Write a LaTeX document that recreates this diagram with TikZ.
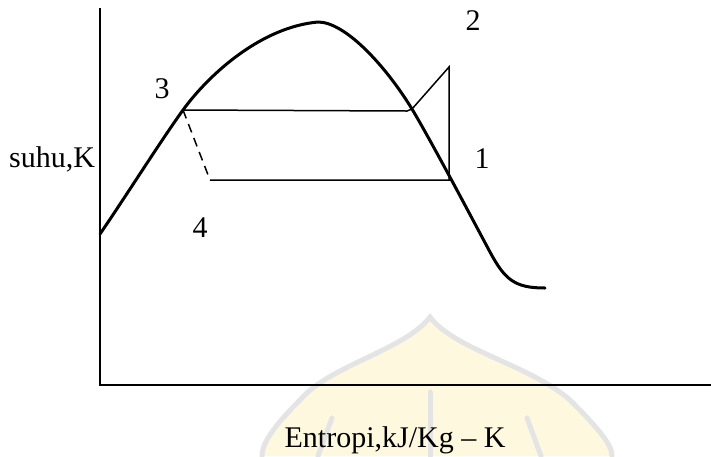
\documentclass[tikz,border=0pt]{standalone}
\usepackage{fontspec}
\setmainfont{Liberation Serif}
\definecolor{wmfill}{RGB}{254,249,222}
\definecolor{wmline}{RGB}{228,228,228}
\begin{document}
\begin{tikzpicture}[x=1pt,y=-1pt,
  lbl/.style={font=\fontsize{30}{36}\selectfont, anchor=base, inner sep=0pt},
  thick curve/.style={line width=3pt, line join=round, line cap=round},
  thin line/.style={line width=1.5pt, line join=miter},
  axisline/.style={line width=1.6pt},
  wm/.style={draw=wmline, line width=5pt, line cap=round}]
\useasboundingbox (0,0) rectangle (711,456);
% watermark
\fill[wmfill] (430,317) .. controls (405,350) and (330,365) .. (300,400)
   .. controls (270,430) and (262,445) .. (262,456) -- (612,456)
   .. controls (612,445) and (600,430) .. (570,400)
   .. controls (530,365) and (455,350) .. (430,317) -- cycle;
\draw[wm] (262,456) .. controls (262,445) and (270,430) .. (300,400)
   .. controls (330,365) and (405,350) .. (430,317)
   .. controls (455,350) and (530,365) .. (570,400)
   .. controls (600,430) and (612,445) .. (612,456);
\draw[wm] (430,392) -- (430,456);
\draw[wm] (332,418) -- (318,456);
\draw[wm] (527,418) -- (541,456);
% axes
\coordinate (O) at (100,385);
\coordinate (ytop) at (100,8);
\coordinate (xend) at (711,385);
\draw[axisline] (ytop) -- (O) -- (xend);
% saturation dome
\coordinate (c0) at (100,234);
\coordinate (p3) at (183,110);
\coordinate (top) at (318,22);
\coordinate (pc) at (412,109);
\coordinate (c4) at (490,252);
\coordinate (cend) at (545,288);
\draw[thick curve] (c0) .. controls (128,193) and (160,142) .. (p3)
  .. controls (210,73) and (262,27) .. (top)
  .. controls (345,22) and (385,65) .. (pc)
  .. controls (434,146) and (476,226) .. (c4)
  .. controls (505,280) and (515,288) .. (cend);
% cycle points
\coordinate (p3r) at (407,111);
\coordinate (p2) at (449,67);
\coordinate (p1) at (449,180);
\coordinate (p4) at (210,180);
\draw[thin line] (p3) -- (p3r) -- (pc) -- (p2) -- (p1) -- (p4);
\draw[thin line, dash pattern=on 9pt off 6pt] (p3) -- (p4);
% labels
\node[lbl] (l2) at (473,30) {2};
\node[lbl] (l3) at (162,98) {3};
\node[lbl] (l1) at (482,168) {1};
\node[lbl] (l4) at (200,237) {4};
\node[lbl] (ly) at (52,167) {suhu,K};
\node[lbl] (lx) at (395,447) {Entropi,kJ/Kg – K};
\end{tikzpicture}
\end{document}
